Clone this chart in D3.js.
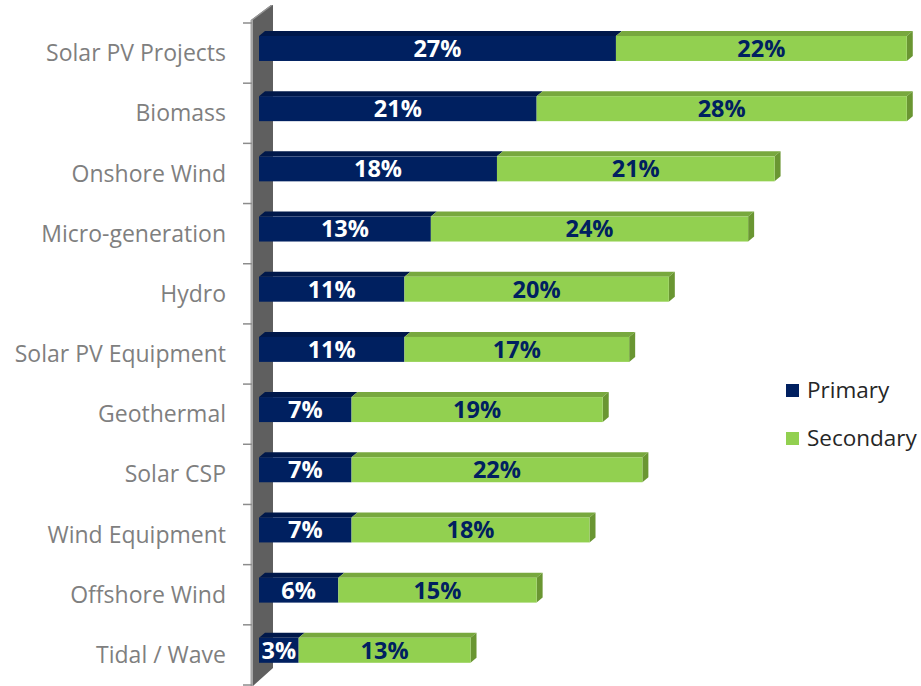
<!DOCTYPE html>
<html>
<head>
<meta charset="utf-8">
<script src="https://cdn.jsdelivr.net/npm/d3@7"></script>
<style>
  body { margin: 0; background: #ffffff; }
  #chart { width: 921px; height: 686px; }
  text { font-family: "Open Sans", "Noto Sans", sans-serif; }
</style>
</head>
<body>
<div id="chart"></div>
<script>
let categories = ["Solar PV Projects", "Biomass", "Onshore Wind", "Micro-generation", "Hydro",
                  "Solar PV Equipment", "Geothermal", "Solar CSP", "Wind Equipment", "Offshore Wind", "Tidal / Wave"];
let primary   = [27, 21, 18, 13, 11, 11, 7, 7, 7, 6, 3];     // Primary (%)
let secondary = [22, 28, 21, 24, 20, 17, 19, 22, 18, 15, 13]; // Secondary (%)
let seriesNames = ["Primary", "Secondary"];

let width = 921;
let height = 686;

let depthX = 6;     // hloubka 3D efektu
let depthY = -5;

let colors = {
  front:   ["#002060", "#92d050"],
  top:     ["#00184a", "#78a83e"],
  side:    ["#001540", "#6a9632"],
  label:   ["#ffffff", "#002060"]
};

window.addEventListener('load', function ()
{
  createSVG();
});

function createSVG()
{
  let svg = d3.select("#chart")
    .append("svg")
    .attr("width", width)
    .attr("height", height);

  let X = d3.scaleLinear()
    .domain([0, 50])
    .range([259, 920]);

  let Y = d3.scaleBand()
    .domain(categories)
    .range([23, 685]);

  let bw = Y.bandwidth();

  // stěna (osa) vlevo
  svg.append("polygon")
    .attr("points", [[251, 20], [271, 5], [273, 5], [273, 668], [253, 686], [251, 686]].join(" "))
    .attr("fill", "#5f5f5f");
  svg.append("rect")
    .attr("x", 250.5).attr("y", 20)
    .attr("width", 2.5).attr("height", 666)
    .attr("fill", "#a6a6a6");
  svg.append("polygon")
    .attr("points", [[251, 20], [271, 5], [273, 5], [253, 20]].join(" "))
    .attr("fill", "#9a9a9a");

  // ticky
  let ticks = d3.range(categories.length + 1).map(i => 23 + i * bw);
  svg.selectAll("line.tick")
    .data(ticks)
    .enter()
    .append("line")
    .attr("class", "tick")
    .attr("x1", 243).attr("x2", 252)
    .attr("y1", d => d).attr("y2", d => d)
    .attr("stroke", "#8c8c8c")
    .attr("stroke-width", 1.5);

  // názvy kategorií
  svg.selectAll("text.cat")
    .data(categories)
    .enter()
    .append("text")
    .attr("class", "cat")
    .attr("x", 226)
    .attr("y", d => Y(d) + bw / 2)
    .attr("dy", "0.35em")
    .attr("text-anchor", "end")
    .attr("font-size", "23px")
    .attr("fill", "#7f7f7f")
    .text(d => d);

  // segmenty barů
  let segs = [];
  categories.forEach(function (c, i)
  {
    segs.push({cat: c, s: 0, x0: 0, x1: primary[i], v: primary[i], last: false});
    segs.push({cat: c, s: 1, x0: primary[i], x1: primary[i] + secondary[i], v: secondary[i], last: true});
  });

  let barTop = d => Y(d.cat) + bw * 0.216;
  let barH = bw * 0.415;

  let g = svg.selectAll("g.seg")
    .data(segs)
    .enter()
    .append("g")
    .attr("class", "seg");

  // horní plocha
  g.append("polygon")
    .attr("points", function (d)
    {
      let y = barTop(d);
      return [[X(d.x0), y], [X(d.x0) + depthX, y + depthY], [X(d.x1) + depthX, y + depthY], [X(d.x1), y]].join(" ");
    })
    .attr("fill", d => colors.top[d.s]);

  // boční plocha (jen poslední segment)
  g.filter(d => d.last)
    .append("polygon")
    .attr("points", function (d)
    {
      let y = barTop(d);
      return [[X(d.x1), y], [X(d.x1) + depthX, y + depthY], [X(d.x1) + depthX, y + barH + depthY], [X(d.x1), y + barH]].join(" ");
    })
    .attr("fill", d => colors.side[d.s]);

  // přední plocha
  g.append("rect")
    .attr("x", d => X(d.x0))
    .attr("y", d => barTop(d))
    .attr("width", d => X(d.x1) - X(d.x0))
    .attr("height", barH)
    .attr("fill", d => colors.front[d.s]);

  // popisky hodnot
  g.append("text")
    .attr("x", d => (X(d.x0) + X(d.x1)) / 2)
    .attr("y", d => barTop(d) + barH / 2)
    .attr("dy", "0.36em")
    .attr("text-anchor", "middle")
    .attr("font-size", "23.5px")
    .attr("font-weight", "bold")
    .attr("fill", d => colors.label[d.s])
    .text(d => d.v + "%");

  // legenda
  let legend = svg.selectAll("g.legend")
    .data(seriesNames)
    .enter()
    .append("g")
    .attr("class", "legend")
    .attr("transform", (d, i) => "translate(786," + (384 + i * 48) + ")");

  legend.append("rect")
    .attr("width", 13)
    .attr("height", 13)
    .attr("fill", (d, i) => colors.front[i]);

  legend.append("text")
    .attr("x", 21)
    .attr("y", 6.5)
    .attr("dy", "0.35em")
    .attr("font-size", "22.5px")
    .attr("fill", "#262626")
    .text(d => d);
}
</script>
</body>
</html>
